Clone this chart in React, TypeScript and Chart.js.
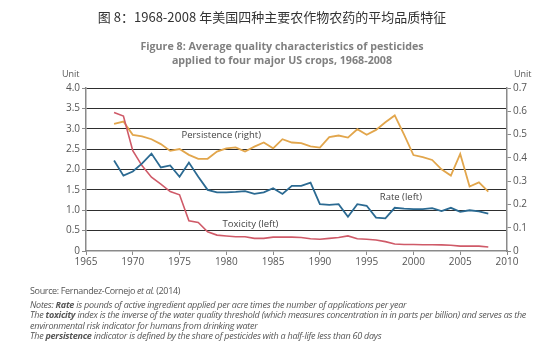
import React, { useEffect, useRef } from "react";
import { Chart, registerables } from "chart.js";

Chart.register(...registerables);

const years = [
  1968, 1969, 1970, 1971, 1972, 1973, 1974, 1975, 1976, 1977, 1978, 1979, 1980, 1981,
  1982, 1983, 1984, 1985, 1986, 1987, 1988, 1989, 1990, 1991, 1992, 1993, 1994, 1995,
  1996, 1997, 1998, 1999, 2000, 2001, 2002, 2003, 2004, 2005, 2006, 2007, 2008,
];

const rate = [
  2.22, 1.85, 1.95, 2.15, 2.39, 2.05, 2.1, 1.82, 2.17, 1.82, 1.5, 1.44, 1.44, 1.45,
  1.47, 1.4, 1.44, 1.54, 1.4, 1.6, 1.6, 1.68, 1.15, 1.13, 1.15, 0.84, 1.15, 1.11,
  0.82, 0.8, 1.06, 1.04, 1.03, 1.03, 1.05, 0.98, 1.06, 0.96, 1.0, 0.97, 0.92,
];

const toxicity = [
  3.4, 3.31, 2.46, 2.09, 1.81, 1.64, 1.46, 1.38, 0.74, 0.7, 0.47, 0.39, 0.37, 0.35,
  0.35, 0.31, 0.31, 0.34, 0.34, 0.34, 0.33, 0.3, 0.29, 0.31, 0.33, 0.37, 0.3, 0.29,
  0.27, 0.23, 0.17, 0.16, 0.16, 0.155, 0.155, 0.15, 0.14, 0.12, 0.12, 0.12, 0.1,
];

const persistence = [
  0.546, 0.556, 0.499, 0.492, 0.48, 0.459, 0.43, 0.438, 0.413, 0.396, 0.396, 0.427,
  0.441, 0.445, 0.427, 0.448, 0.466, 0.441, 0.48, 0.466, 0.463, 0.449, 0.444, 0.489,
  0.496, 0.487, 0.523, 0.499, 0.52, 0.553, 0.582, 0.5, 0.412, 0.403, 0.391, 0.351,
  0.324, 0.417, 0.277, 0.295, 0.255,
];

const seriesNames = ["Rate (left)", "Toxicity (left)", "Persistence (right)"];
const labelYears = [1996.4, 1979.6, 1975.2];
const labelValues = [1.33, 0.66, 2.83];

const chineseTitle = "图 8：1968-2008 年美国四种主要农作物农药的平均品质特征";
const titleLines = [
  "Figure 8: Average quality characteristics of pesticides",
  "applied to four major US crops, 1968-2008",
];

const fmt = (v: number) => (v === 0 ? "0" : v.toFixed(1));

const seriesLabelPlugin = {
  id: "seriesLabels",
  afterDatasetsDraw(chart: any) {
    const { ctx, scales } = chart;
    ctx.save();
    ctx.font = '9.5px "Open Sans", sans-serif';
    ctx.fillStyle = "#444";
    ctx.textAlign = "left";
    ctx.textBaseline = "middle";
    seriesNames.forEach((name, i) => {
      ctx.fillText(
        name,
        scales.x.getPixelForValue(labelYears[i]),
        scales.y.getPixelForValue(labelValues[i])
      );
    });
    ctx.restore();
  },
};

export default function App() {
  const ref = useRef<HTMLCanvasElement>(null);

  useEffect(() => {
    document.body.style.margin = "0";
    const toPts = (arr: number[]) => years.map((y, i) => ({ x: y, y: arr[i] }));
    const tickFont = { family: '"Open Sans", sans-serif', size: 10 };
    const chart = new Chart(ref.current as HTMLCanvasElement, {
      type: "line",
      data: {
        datasets: [
          {
            label: "Rate (left)",
            data: toPts(rate),
            yAxisID: "y",
            borderColor: "#2b6a92",
            borderWidth: 1.8,
            pointRadius: 0,
          },
          {
            label: "Toxicity (left)",
            data: toPts(toxicity),
            yAxisID: "y",
            borderColor: "#cf5a68",
            borderWidth: 1.6,
            pointRadius: 0,
          },
          {
            label: "Persistence (right)",
            data: toPts(persistence),
            yAxisID: "y1",
            borderColor: "#e2a64c",
            borderWidth: 1.8,
            pointRadius: 0,
          },
        ],
      },
      options: {
        responsive: false,
        animation: false,
        layout: { padding: { left: 46, right: 7, top: 88, bottom: 82 } },
        plugins: { legend: { display: false }, tooltip: { enabled: false } },
        scales: {
          x: {
            type: "linear",
            min: 1965,
            max: 2010,
            afterFit: (s: any) => {
              s.height = 20;
            },
            ticks: {
              stepSize: 5,
              color: "#555",
              font: tickFont,
              padding: 1,
              callback: (v: any) => String(v),
            },
            grid: {
              drawOnChartArea: false,
              drawTicks: true,
              tickLength: 4,
              tickColor: "#8a8a8a",
            },
            border: { color: "#8a8a8a", width: 1.5 },
          },
          y: {
            position: "left",
            min: 0,
            max: 4,
            afterFit: (s: any) => {
              s.width = 40;
            },
            ticks: {
              stepSize: 0.5,
              color: "#555",
              font: tickFont,
              padding: 2,
              callback: (v: any) => fmt(Number(v)),
            },
            grid: {
              color: (c: any) => (c.tick && c.tick.value === 0 ? "rgba(0,0,0,0)" : "#2e2e2e"),
              lineWidth: 1,
              tickLength: 4,
              tickColor: "#8a8a8a",
            },
            border: { color: "#8a8a8a", width: 1.5 },
          },
          y1: {
            position: "right",
            min: 0,
            max: 0.7,
            afterFit: (s: any) => {
              s.width = 40;
            },
            ticks: {
              stepSize: 0.1,
              color: "#555",
              font: tickFont,
              padding: 2,
              callback: (v: any) => fmt(Number(v)),
            },
            grid: {
              drawOnChartArea: false,
              tickLength: 4,
              tickColor: "#8a8a8a",
            },
            border: { color: "#8a8a8a", width: 1.5 },
          },
        },
      },
      plugins: [seriesLabelPlugin],
    });
    return () => chart.destroy();
  }, []);

  const abs = (s: React.CSSProperties): React.CSSProperties => ({
    position: "absolute",
    whiteSpace: "nowrap",
    ...s,
  });

  return (
    <div
      style={{
        position: "fixed",
        left: 0,
        top: 0,
        width: 554,
        height: 353,
        background: "#fff",
        overflow: "hidden",
        fontFamily: '"Open Sans", sans-serif',
      }}
    >
      <canvas ref={ref} width={554} height={353} style={{ position: "absolute", left: 0, top: 0 }} />
      <div
        style={abs({
          left: 0,
          width: 544,
          top: 8,
          textAlign: "center",
          fontFamily: '"Noto Sans CJK SC", sans-serif',
          fontSize: 13,
          color: "#333",
          lineHeight: "18px",
        })}
      >
        {chineseTitle}
      </div>
      <div
        style={abs({
          left: 0,
          width: 564,
          top: 39,
          textAlign: "center",
          fontWeight: 700,
          fontSize: 10.7,
          lineHeight: "14px",
          color: "#808080",
        })}
      >
        {titleLines[0]}
        <br />
        {titleLines[1]}
      </div>
      <div style={abs({ left: 62, top: 67, fontSize: 9, color: "#555" })}>Unit</div>
      <div style={abs({ left: 514, top: 67, fontSize: 9, color: "#555" })}>Unit</div>
      <div style={abs({ left: 30, top: 284, fontSize: 9, color: "#555", letterSpacing: -0.35 })}>
        Source: Fernandez-Cornejo <i>et al.</i> (2014)
      </div>
      <div
        style={abs({
          left: 30,
          top: 300,
          fontSize: 9,
          lineHeight: "10.4px",
          color: "#555",
          fontStyle: "italic",
          letterSpacing: -0.25,
        })}
      >
        Notes: <b>Rate</b> is pounds of active ingredient applied per acre times the number of applications per year
        <br />
        The <b>toxicity</b> index is the inverse of the water quality threshold (which measures concentration in in parts per billion) and serves as the
        <br />
        environmental risk indicator for humans from drinking water
        <br />
        The <b>persistence</b> indicator is defined by the share of pesticides with a half-life less than 60 days
      </div>
    </div>
  );
}
